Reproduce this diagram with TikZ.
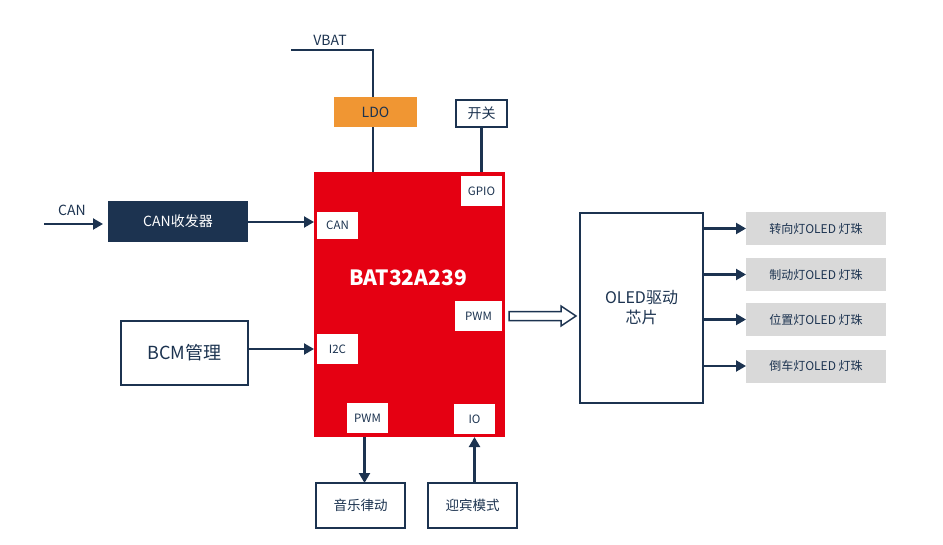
\documentclass[tikz,border=0pt]{standalone}
\usepackage{fontspec}
\setmainfont{Noto Sans CJK SC}
\usetikzlibrary{arrows.meta,calc}
\definecolor{navy}{HTML}{1C3350}
\definecolor{chipred}{HTML}{E50012}
\definecolor{ldoorange}{HTML}{F09633}
\definecolor{lampgray}{HTML}{D9D9D9}
\begin{document}
\begin{tikzpicture}[x=1pt,y=-1pt,
  every node/.style={inner sep=0pt,outer sep=0pt,text=navy},
  wbox/.style={draw=navy,line width=2pt,fill=white},
  port/.style={fill=white,font=\fontsize{11.5}{13}\selectfont},
  lamp/.style={fill=lampgray,minimum width=140pt,minimum height=33pt,font=\fontsize{12}{14}\selectfont},
  conn/.style={draw=navy,line width=2.1pt},
  arr/.style={conn,-{Triangle[length=10pt,width=11pt]}}]
\useasboundingbox (0,0) rectangle (943,544);
% chip
\node[fill=chipred,minimum width=191pt,minimum height=265pt] (chip) at (409.5,304.5) {};
\node[text=white,font=\fontsize{21}{24}\selectfont\bfseries] (chipname) at (408,278) {BAT32A239};
\node[port,minimum width=41pt,minimum height=30pt] (gpio) at (481.5,191) {GPIO};
\node[port,minimum width=41pt,minimum height=27pt] (can) at (337.5,225.5) {CAN};
\node[port,minimum width=47pt,minimum height=30pt] (pwmr) at (478.5,316) {PWM};
\node[port,minimum width=41pt,minimum height=30pt] (i2c) at (337.5,349) {I2C};
\node[port,minimum width=41pt,minimum height=30pt] (pwmb) at (367.5,418) {PWM};
\node[port,minimum width=41pt,minimum height=30pt] (io) at (474.5,419) {IO};
% top
\node[fill=ldoorange,minimum width=83pt,minimum height=30pt,font=\fontsize{14}{16}\selectfont] (ldo) at (375.5,112) {LDO};
\node[wbox,minimum width=51pt,minimum height=27pt,font=\fontsize{14}{16}\selectfont] (sw) at (481.5,113.5) {开关};
\coordinate (vbatend) at (291,50);
\coordinate (ldotop) at ($(ldo.north)+(-2.5,0)$);
\coordinate (ldobot) at ($(ldo.south)+(-2.5,0)$);
\node[font=\fontsize{14}{16}\selectfont] (vbat) at (330,40) {VBAT};
\draw[conn] (vbatend) -- (ldotop |- vbatend) -- (ldotop);
\draw[conn] (ldobot) -- (ldobot |- chip.north);
\draw[conn] (sw.south) -- (sw.south |- chip.north);
% left
\coordinate (canin) at (44,224);
\node[fill=navy,minimum width=140pt,minimum height=41pt,text=white,font=\fontsize{14}{16}\selectfont] (trx) at (178,221.5) {CAN收发器};
\node[font=\fontsize{14}{16}\selectfont] (canlbl) at (72,210) {CAN};
\draw[arr,shorten >=5pt] (canin) -- (canin -| trx.west);
\draw[arr] (trx.east |- 0,222) -- (chip.west |- 0,222);
\node[wbox,minimum width=127pt,minimum height=64pt,font=\fontsize{18}{20}\selectfont] (bcm) at (184.5,353) {BCM管理};
\draw[arr] (bcm.east |- 0,349) -- (chip.west |- 0,349);
% OLED driver
\node[wbox,minimum width=123pt,minimum height=190pt,align=center,font=\fontsize{16}{20}\selectfont] (oled) at (641.5,308) {OLED驱动\\芯片};
\coordinate (hs) at ($(pwmr.east)+(7,0)$);
\coordinate (ht) at ($(oled.west |- pwmr.east)+(-4,0)$);
\draw[navy,line width=1.5pt,fill=white,line join=miter]
  ($(hs)+(0,-4.5)$) -- ($(ht)+(-15,-4.5)$) -- ($(ht)+(-15,-10)$) -- (ht) -- ($(ht)+(-15,10)$) -- ($(ht)+(-15,4.5)$) -- ($(hs)+(0,4.5)$) -- cycle;
% lamps
\node[lamp] (l1) at (816,228.5) {转向灯OLED 灯珠};
\node[lamp] (l2) at (816,274.5) {制动灯OLED 灯珠};
\node[lamp] (l3) at (816,319.5) {位置灯OLED 灯珠};
\node[lamp] (l4) at (816,366) {倒车灯OLED 灯珠};
\foreach \l in {l1,l2,l3,l4}{\draw[arr] (oled.east |- \l.west) -- (\l.west);}
% bottom
\node[wbox,minimum width=89pt,minimum height=45pt,font=\fontsize{13.5}{16}\selectfont] (music) at (360.5,505.5) {音乐律动};
\node[wbox,minimum width=89pt,minimum height=45pt,font=\fontsize{13.5}{16}\selectfont] (welcome) at (472.5,505.5) {迎宾模式};
\draw[arr] ($(pwmb.south |- chip.south)+(-3,0)$) -- ($(pwmb.south |- music.north)+(-3,0)$);
\draw[arr] (io.south |- welcome.north) -- (io.south |- chip.south);
\end{tikzpicture}
\end{document}
